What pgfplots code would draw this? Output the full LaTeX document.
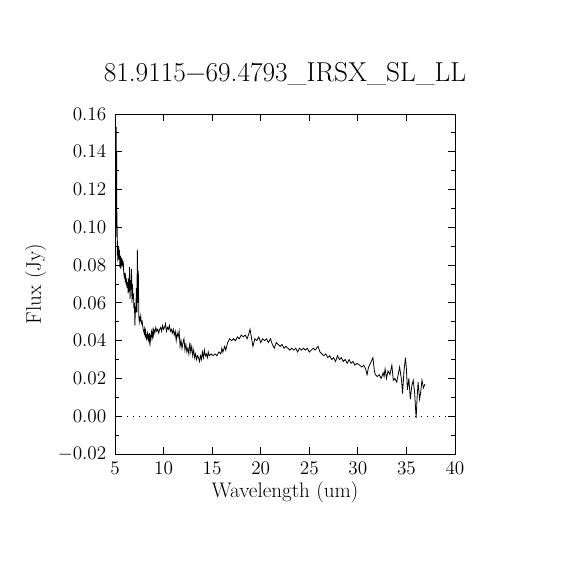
\documentclass[border=0pt]{standalone}
\usepackage{fontspec}
\usepackage{pgfplots}
\pgfplotsset{compat=1.18}
\pgfplotstableread{
x y
5.05 0.110
5.12 0.153
5.15 0.100
5.17 0.140
5.19 0.095
5.21 0.108
5.23 0.085
5.26 0.093
5.28 0.082
5.31 0.089
5.34 0.086
5.37 0.090
5.40 0.083
5.45 0.088
5.50 0.079
5.55 0.085
5.60 0.078
5.65 0.084
5.70 0.080
5.75 0.083
5.80 0.079
5.85 0.082
5.90 0.076
5.95 0.074
6.00 0.075
6.05 0.072
6.10 0.074
6.15 0.071
6.20 0.073
6.25 0.068
6.30 0.071
6.35 0.065
6.40 0.073
6.45 0.066
6.50 0.079
6.55 0.062
6.60 0.072
6.65 0.067
6.70 0.078
6.75 0.060
6.80 0.070
6.85 0.062
6.90 0.065
6.95 0.057
7.00 0.060
7.05 0.048
7.10 0.058
7.15 0.055
7.20 0.068
7.25 0.055
7.30 0.088
7.35 0.060
7.40 0.077
7.45 0.053
7.50 0.050
7.55 0.052
7.60 0.051
7.65 0.053
7.70 0.050
7.75 0.049
7.80 0.050
7.85 0.048
7.90 0.046
7.95 0.045
8.00 0.044
8.05 0.046
8.10 0.043
8.15 0.045
8.20 0.042
8.25 0.041
8.30 0.043
8.35 0.044
8.40 0.040
8.45 0.042
8.50 0.039
8.55 0.044
8.60 0.037
8.65 0.043
8.70 0.040
8.75 0.045
8.80 0.044
8.85 0.042
8.90 0.045
8.95 0.043
9.00 0.046
9.10 0.044
9.20 0.047
9.30 0.045
9.40 0.046
9.50 0.044
9.60 0.046
9.70 0.047
9.80 0.045
9.90 0.048
10.00 0.046
10.10 0.047
10.20 0.049
10.30 0.045
10.40 0.047
10.50 0.046
10.60 0.048
10.70 0.045
10.80 0.046
10.90 0.044
11.00 0.046
11.10 0.043
11.20 0.045
11.30 0.040
11.40 0.044
11.50 0.042
11.60 0.045
11.70 0.037
11.80 0.040
11.90 0.036
12.00 0.039
12.10 0.041
12.20 0.035
12.30 0.038
12.40 0.034
12.50 0.036
12.60 0.033
12.70 0.039
12.80 0.034
12.90 0.037
13.00 0.032
13.10 0.035
13.20 0.031
13.30 0.033
13.40 0.030
13.50 0.032
13.60 0.031
13.70 0.029
13.80 0.032
13.90 0.030
14.00 0.034
14.10 0.031
14.20 0.035
14.30 0.032
14.40 0.033
14.50 0.031
14.60 0.034
14.70 0.032
14.90 0.033
15.10 0.032
15.30 0.033
15.50 0.032
15.70 0.034
15.90 0.033
16.00 0.036
16.10 0.034
16.30 0.037
16.40 0.035
16.60 0.039
16.80 0.041
17.00 0.040
17.20 0.041
17.40 0.040
17.60 0.042
17.80 0.041
18.00 0.043
18.20 0.042
18.40 0.043
18.60 0.041
18.80 0.044
18.90 0.046
19.00 0.043
19.20 0.037
19.40 0.041
19.60 0.040
19.80 0.042
20.00 0.039
20.20 0.041
20.40 0.040
20.60 0.041
20.80 0.039
21.00 0.041
21.20 0.038
21.40 0.036
21.60 0.039
21.80 0.038
22.00 0.037
22.20 0.038
22.40 0.036
22.60 0.037
22.80 0.036
23.00 0.035
23.20 0.036
23.40 0.035
23.60 0.036
23.80 0.034
24.00 0.036
24.20 0.035
24.40 0.036
24.60 0.035
24.80 0.036
25.00 0.034
25.20 0.035
25.40 0.036
25.60 0.035
25.90 0.037
26.10 0.034
26.30 0.033
26.50 0.032
26.70 0.033
26.90 0.031
27.10 0.032
27.30 0.030
27.50 0.031
27.70 0.029
27.90 0.032
28.10 0.030
28.30 0.031
28.50 0.029
28.70 0.030
28.90 0.028
29.10 0.030
29.30 0.028
29.50 0.029
29.70 0.027
29.90 0.028
30.20 0.027
30.40 0.026
30.60 0.027
30.80 0.025
30.95 0.022
31.10 0.026
31.30 0.028
31.55 0.031
31.70 0.024
31.80 0.022
32.00 0.021
32.20 0.022
32.40 0.020
32.60 0.023
32.70 0.021
32.80 0.025
32.95 0.020
33.10 0.024
33.30 0.022
33.50 0.027
33.65 0.019
33.80 0.020
34.00 0.018
34.15 0.022
34.30 0.026
34.50 0.019
34.60 0.012
34.75 0.024
34.90 0.031
35.00 0.025
35.10 0.014
35.25 0.020
35.40 0.009
35.55 0.016
35.70 0.019
35.85 0.012
36.00 -0.001
36.10 0.010
36.20 0.018
36.35 0.009
36.45 0.012
36.60 0.019
36.75 0.015
36.90 0.017
}\spectrum
\begin{document}
\begin{tikzpicture}
\begin{axis}[
  scale only axis,
  width=255pt, height=255pt,
  xmin=5, xmax=40, ymin=-0.02, ymax=0.16,
  xtick={5,10,...,40},
  ytick={-0.02,0,0.02,0.04,0.06,0.08,0.10,0.12,0.14,0.16},
  minor ytick={-0.01,0.01,0.03,0.05,0.07,0.09,0.11,0.13,0.15},
  scaled y ticks=false,
  yticklabel style={/pgf/number format/fixed,/pgf/number format/fixed zerofill,/pgf/number format/precision=2},
  tick align=inside,
  major tick length=5.25pt,
  minor tick length=3pt,
  tick style={black, line width=0.6pt},
  axis line style={line width=0.6pt},
  ticklabel style={font=\fontsize{15.5}{18}\selectfont},
  xticklabel style={anchor=base, yshift=-15.75pt},
  yticklabel style={anchor=east, inner sep=0pt, xshift=-6.4pt},
  title={81.9115−69.4793\_IRSX\_SL\_LL},
  title style={at={(axis description cs:0.5,1.0706)}, anchor=base, font=\fontsize{20.5}{23}\selectfont, inner sep=0pt},
  xlabel={Wavelength (um)},
  xlabel style={at={(axis description cs:0.5,-0.129)}, anchor=base, font=\fontsize{15.8}{18}\selectfont, inner sep=0pt},
  ylabel={Flux (Jy)},
  ylabel style={at={(axis description cs:-0.218,0.5)}, anchor=base, font=\fontsize{15.8}{18}\selectfont, inner sep=0pt},
]
\addplot[black, dash pattern=on 0.75pt off 3.75pt, line width=0.6pt, forget plot] coordinates {(5,0) (40,0)};
\addplot[black, line width=0.6pt, mark=none] table[x=x,y=y] {\spectrum};
\end{axis}
\pgfresetboundingbox
\path (current axis.south west) ++(-86.25pt,-87pt) rectangle ++(427.5pt,427.5pt);
\end{tikzpicture}
\end{document}
